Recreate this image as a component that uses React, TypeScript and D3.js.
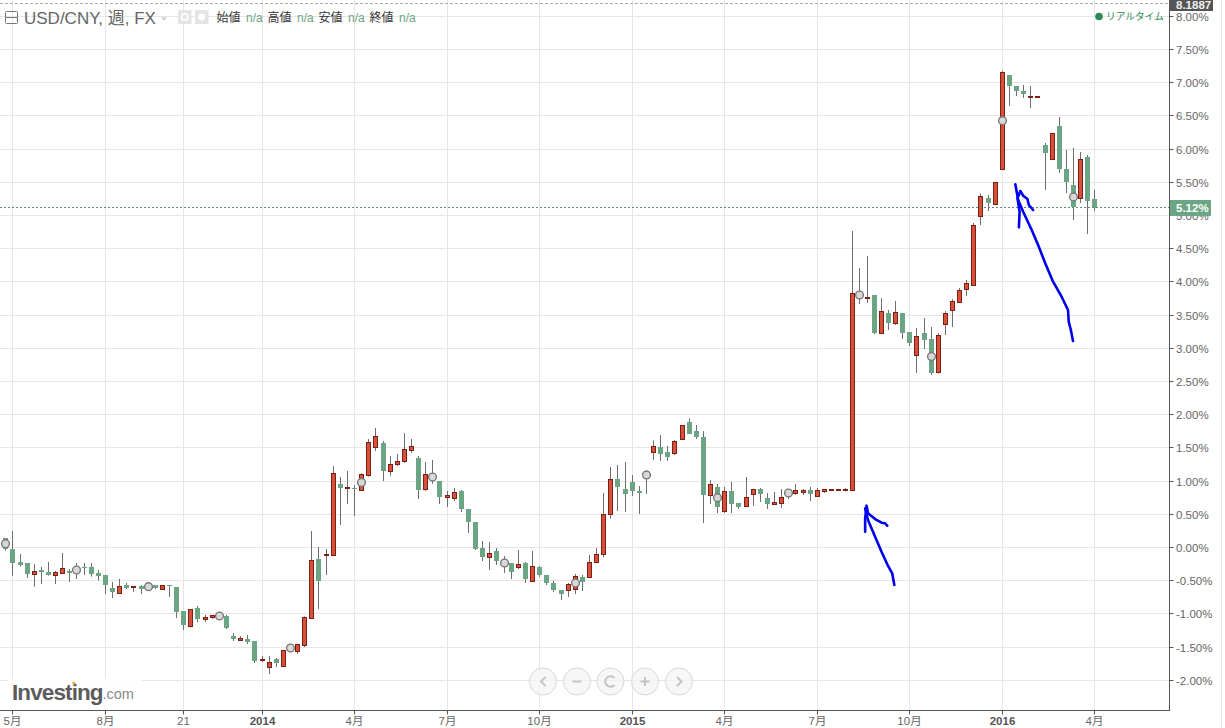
import React from "react";
import * as d3 from "d3";

const opens = [0.138,-0.023,-0.233,-0.248,-0.409,-0.339,-0.369,-0.419,-0.389,-0.364,-0.319,-0.294,-0.294,-0.399,-0.429,-0.61,-0.695,-0.565,-0.605,-0.58,-0.57,-0.57,-0.63,-0.565,-0.595,-0.971,-1.192,-0.926,-1.087,-1.057,-1.047,-1.032,-1.333,-1.403,-1.393,-1.423,-1.704,-1.81,-1.694,-1.795,-1.534,-1.569,-1.47,-1.072,-0.188,-0.123,-0.123,0.956,0.896,0.896,0.856,1.082,1.503,1.559,1.142,1.247,1.293,1.458,1.333,0.866,1.092,1.001,0.75,0.735,0.836,0.565,0.384,-0.008,-0.153,-0.053,-0.203,-0.248,-0.304,-0.248,-0.515,-0.294,-0.429,-0.535,-0.655,-0.655,-0.635,-0.449,-0.454,-0.228,-0.103,0.494,1.027,0.876,0.981,0.846,1.042,1.428,1.509,1.438,1.413,1.629,1.885,1.754,1.664,0.781,0.906,0.54,0.836,0.67,0.615,0.796,0.866,0.745,0.655,0.66,0.851,0.811,0.826,0.851,0.766,0.841,0.856,0.856,0.856,0.861,3.828,3.748,3.788,3.23,3.517,3.366,3.517,3.245,2.889,3.23,3.14,2.633,3.356,3.567,3.687,3.883,3.943,4.983,5.249,5.163,5.695,7.101,6.95,6.86,6.775,6.775,6.047,5.836,6.333,5.7,5.445,5.254,5.866,5.234];
const closes = [-0.023,-0.243,-0.264,-0.409,-0.359,-0.379,-0.424,-0.374,-0.314,-0.394,-0.359,-0.309,-0.414,-0.439,-0.575,-0.685,-0.585,-0.61,-0.58,-0.625,-0.61,-0.61,-0.57,-0.59,-0.981,-1.182,-0.931,-1.077,-1.052,-1.022,-1.017,-1.227,-1.393,-1.378,-1.438,-1.724,-1.694,-1.729,-1.754,-1.549,-1.493,-1.458,-1.052,-0.193,-0.505,-0.103,1.117,0.896,0.911,0.881,1.102,1.584,1.674,1.152,1.253,1.298,1.478,1.524,0.851,1.102,1.032,0.76,0.776,0.831,0.565,0.369,-0.023,-0.158,-0.088,-0.218,-0.264,-0.369,-0.254,-0.489,-0.284,-0.429,-0.535,-0.655,-0.715,-0.555,-0.434,-0.52,-0.223,-0.103,0.499,1.027,0.911,0.791,0.836,0.806,1.142,1.524,1.408,1.348,1.599,1.84,1.709,1.664,0.776,0.951,0.595,0.846,0.655,0.595,0.755,0.866,0.791,0.655,0.685,0.755,0.791,0.861,0.851,0.791,0.861,0.866,0.866,0.866,0.866,3.828,3.778,3.768,3.23,3.557,3.366,3.542,3.23,3.065,3.18,3.125,2.613,3.195,3.527,3.707,3.873,3.978,4.852,5.289,5.188,5.49,7.161,6.95,6.86,6.815,6.785,6.785,5.941,6.242,5.7,5.49,5.113,5.846,5.218,5.098];
const highs = [0.138,0.248,-0.098,-0.238,-0.248,-0.294,-0.218,-0.354,-0.083,-0.324,-0.233,-0.233,-0.233,-0.339,-0.429,-0.52,-0.474,-0.535,-0.58,-0.565,-0.55,-0.565,-0.57,-0.565,-0.595,-0.971,-0.931,-0.881,-1.017,-1.022,-1.017,-1.017,-1.288,-1.333,-1.318,-1.423,-1.634,-1.634,-1.664,-1.549,-1.473,-1.458,-1.037,0.248,0.008,-0.023,1.227,1.062,1.152,0.941,1.117,1.634,1.8,1.604,1.378,1.408,1.724,1.634,1.378,1.288,1.318,1.001,0.851,0.896,0.866,0.58,0.384,0.098,0.083,-0.008,-0.128,-0.248,-0.038,-0.218,-0.053,-0.279,-0.414,-0.505,-0.64,-0.535,-0.399,-0.414,-0.113,-0.008,0.821,1.212,1.242,1.288,1.092,0.926,1.167,1.614,1.694,1.529,1.619,1.84,1.945,1.845,1.754,1.017,0.956,0.911,0.986,0.67,1.062,0.881,0.896,0.821,0.836,0.881,0.881,0.956,0.881,0.911,0.896,0.881,0.866,0.866,0.896,4.766,4.209,4.39,3.803,3.758,3.577,3.712,3.517,3.245,3.306,3.456,3.321,3.23,3.562,3.742,3.908,4.028,4.887,5.334,5.309,5.505,7.176,7.116,6.95,6.965,6.95,6.785,6.092,6.242,6.483,5.986,6.016,5.956,5.911,5.384];
const lows = [-0.048,-0.424,-0.289,-0.459,-0.59,-0.55,-0.424,-0.55,-0.389,-0.52,-0.474,-0.414,-0.439,-0.499,-0.7,-0.761,-0.695,-0.625,-0.67,-0.7,-0.63,-0.625,-0.63,-0.745,-1.062,-1.242,-1.207,-1.122,-1.122,-1.077,-1.047,-1.227,-1.408,-1.403,-1.453,-1.739,-1.724,-1.905,-1.8,-1.795,-1.534,-1.604,-1.5,-1.072,-0.926,-0.414,-0.123,0.339,0.655,0.474,0.856,1.067,1.453,1.001,1.082,1.227,1.273,1.423,0.73,0.851,0.956,0.655,0.61,0.7,0.535,0.218,-0.038,-0.203,-0.339,-0.264,-0.384,-0.474,-0.324,-0.535,-0.515,-0.444,-0.565,-0.67,-0.791,-0.745,-0.7,-0.655,-0.454,-0.228,-0.15,0.434,0.55,0.535,0.776,0.505,0.806,1.318,1.303,1.303,1.393,1.619,1.709,1.634,0.369,0.655,0.52,0.52,0.52,0.58,0.615,0.625,0.685,0.58,0.64,0.595,0.73,0.791,0.791,0.7,0.766,0.821,0.856,0.856,0.846,0.861,3.667,3.682,3.215,3.215,3.275,3.351,3.14,3.034,2.628,2.989,2.598,2.618,3.2,3.321,3.682,3.788,3.943,4.857,5.068,5.163,5.695,6.649,6.8,6.77,6.619,6.775,5.384,5.836,5.64,5.339,4.932,5.188,4.721,5.068];

const eventSlots = [0,10,20,30,40,50,60,70,80,90,100,110,120,130,140,150];
const priceTicks = [8,7.5,7,6.5,6,5.5,5,4.5,4,3.5,3,2.5,2,1.5,1,0.5,0,-0.5,-1,-1.5,-2];
const timeSlots = [1,14,25,36,49,62,75,88,101,114,127,140,153];
const timeLabels = ["5月","8月","21","2014","4月","7月","10月","2015","4月","7月","10月","2016","4月"];
const lastValue = 5.12;
const legendItems = ["始値","高値","安値","終値"];

const arrowOneLong: [number,number][] = [[124.9,-0.565],[124.6,-0.389],[124,-0.274],[123.1,-0.063],[122.2,0.163],[121.2,0.414],[120.8,0.59]];
const arrowOneShort: [number,number][] = [[120.8,0.238],[120.8,0.44],[121,0.63],[121.2,0.515],[122.2,0.429],[123.1,0.373],[123.6,0.364],[123.9,0.328]];
const arrowTwoLong: [number,number][] = [[150,3.11],[149.7,3.276],[149.4,3.4],[149.3,3.577],[148.4,3.777],[147.2,4.003],[146.1,4.28],[145.1,4.556],[144.2,4.782],[143,5.057],[142.3,5.233],[141.9,5.47]];
const arrowTwoShort: [number,number][] = [[142.4,4.822],[142.5,5.057],[142.2,5.259],[142.6,5.369],[143,5.298],[143.6,5.248],[143.8,5.158],[144.4,5.083]];

const x = d3.scaleLinear().domain([0, 153]).range([5.3, 1094.35]);
const y = d3.scaleLinear().domain([-2, 8]).range([680.3, 16.3]);
const strokeLine = d3.line<[number,number]>().x(d => x(d[0])).y(d => y(d[1])).curve(d3.curveLinear);

const FONT = '"Liberation Sans", Arial, "Noto Sans CJK JP", sans-serif';
const GREEN = "#6ba583";
const RED = "#d9503a";
const REDDARK = "#7a2015";
const WICK = "#6e6e6e";
const GRID = "#e6e6e6";
const AXIS = "#555555";
const AXIS_X = 1169.5;
const AXIS_Y = 710.5;

function Candles() {
  return (
    <g>
      {opens.map((o, i) => {
        const c = closes[i];
        const cx = Math.round(x(i));
        const up = c >= o;
        const top = Math.floor(y(Math.max(o, c)));
        const bot = Math.floor(y(Math.min(o, c)));
        const h = Math.max(bot - top, 1);
        return (
          <g key={i}>
            <line x1={cx + 0.5} x2={cx + 0.5} y1={y(highs[i])} y2={y(lows[i])} stroke={WICK} strokeWidth={1} />
            {up ? (
              <rect x={cx - 1.5} y={top + 0.5} width={4} height={h} fill={RED} stroke={REDDARK} strokeWidth={1} />
            ) : (
              <rect x={cx - 2} y={top} width={5} height={Math.max(h, 1)} fill={GREEN} />
            )}
          </g>
        );
      })}
    </g>
  );
}

function NavButton({ cx, children }: { cx: number; children?: React.ReactNode }) {
  const cy = 681.5;
  return (
    <g transform={`translate(${cx},${cy})`}>
      <circle r={13.5} fill="#f4f4f4" fillOpacity={0.75} stroke="#d8d8d8" strokeWidth={1} />
      <g fill="none" stroke="#c4c4c4" strokeWidth={2}>{children}</g>
    </g>
  );
}

export default function App() {
  const yLast = y(lastValue);
  return (
    <svg width={1225} height={728} style={{ position: "absolute", left: 0, top: 0, display: "block", background: "#fff", fontFamily: FONT }}>
      {/* grid */}
      {priceTicks.map(t => (
        <line key={t} x1={0} x2={AXIS_X} y1={Math.floor(y(t)) + 0.5} y2={Math.floor(y(t)) + 0.5} stroke={GRID} strokeWidth={1} />
      ))}
      {timeSlots.map(s => (
        <line key={s} x1={Math.round(x(s)) + 0.5} x2={Math.round(x(s)) + 0.5} y1={0} y2={AXIS_Y} stroke={GRID} strokeWidth={1} />
      ))}
      <line x1={1221.5} x2={1221.5} y1={0} y2={728} stroke="#e8e8e8" strokeWidth={1} />

      {/* top dashed high line */}
      <line x1={0} x2={AXIS_X} y1={3.5} y2={3.5} stroke="#aaaaaa" strokeWidth={1} strokeDasharray="3 2" />

      {/* logo */}
      <rect x={8} y={678} width={134} height={31} fill="#fff" fillOpacity={0.85} />
      <text x={12} y={700} fontSize={22.5} fontWeight={700} fill="#5c5c5c" letterSpacing={-0.9}>Investing</text>
      <text x={102.5} y={699} fontSize={14.5} fill="#8a8a8a">.com</text>
      <circle cx={74} cy={683} r={1.6} fill="#f0a030" />

      <Candles />

      {/* event markers */}
      {eventSlots.map(s => (
        <circle key={s} cx={Math.round(x(s)) + 0.5} cy={y((opens[s] + closes[s]) / 2)} r={3.9} fill="#d8d8d8" stroke="#777" strokeWidth={1.4} />
      ))}

      {/* price line */}
      <line x1={0} x2={AXIS_X} y1={Math.floor(yLast) + 0.5} y2={Math.floor(yLast) + 0.5} stroke="#5f8a72" strokeWidth={1} strokeDasharray="2 2" />

      {/* hand-drawn arrows */}
      {[arrowOneLong, arrowOneShort, arrowTwoLong, arrowTwoShort].map((p, i) => (
        <path key={i} d={strokeLine(p) || ""} fill="none" stroke="#0000ee" strokeWidth={2.6} strokeLinejoin="round" strokeLinecap="round" />
      ))}

      {/* nav buttons */}
      <NavButton cx={543}><path d="M2.5,-4.5 L-2,0 L2.5,4.5" /></NavButton>
      <NavButton cx={577}><path d="M-4.5,0 H4.5" /></NavButton>
      <NavButton cx={610.5}><path d="M4,-3.5 A5.3,5.3 0 1 0 4,3.5" /></NavButton>
      <NavButton cx={645}><path d="M-4.5,0 H4.5 M0,-4.5 V4.5" /></NavButton>
      <NavButton cx={679}><path d="M-2,-4.5 L2.5,0 L-2,4.5" /></NavButton>

      {/* axes */}
      <line x1={AXIS_X} x2={AXIS_X} y1={0} y2={AXIS_Y + 0.5} stroke={AXIS} strokeWidth={1} />
      <line x1={0} x2={AXIS_X} y1={AXIS_Y} y2={AXIS_Y} stroke={AXIS} strokeWidth={1} />
      {priceTicks.map(t => {
        const ty = Math.floor(y(t)) + 0.5;
        return (
          <g key={t}>
            <line x1={AXIS_X} x2={AXIS_X + 4} y1={ty} y2={ty} stroke={AXIS} strokeWidth={1} />
            <text x={1176} y={ty + 4} fontSize={11.5} fill="#666">{`${t.toFixed(2)}%`}</text>
          </g>
        );
      })}
      {timeSlots.map((s, i) => {
        const tx = Math.round(x(s)) + 0.5;
        const lab = timeLabels[i];
        const bold = lab.length === 4;
        return (
          <g key={s}>
            <line x1={tx} x2={tx} y1={AXIS_Y} y2={AXIS_Y + 4} stroke={AXIS} strokeWidth={1} />
            <text x={tx} y={724.5} fontSize={11.5} textAnchor="middle" fontWeight={bold ? 700 : 400} fill={bold ? "#555" : "#666"}>{lab}</text>
          </g>
        );
      })}

      {/* right labels */}
      <rect x={1170} y={0} width={43} height={11} fill="#555" />
      <text x={1176} y={8.5} fontSize={11.5} fontWeight={700} fill="#eee">8.1887</text>
      <rect x={1170} y={200} width={41} height={16} fill={GREEN} />
      <text x={1176} y={212} fontSize={11.5} fontWeight={700} fill="#fff">{`${lastValue.toFixed(2)}%`}</text>

      <circle cx={1099} cy={16.5} r={3.8} fill="#2e8b57" />
      <text x={1106} y={20} fontSize={9.7} fill="#2e8b57">リアルタイム</text>

      {/* header */}
      <rect x={5.5} y={11.5} width={12} height={12} rx={1} fill="none" stroke="#777" strokeWidth={1} />
      <line x1={5.5} x2={17.5} y1={17.5} y2={17.5} stroke="#777" strokeWidth={1} />
      <text x={24} y={24} fontSize={17} fill="#666">USD/CNY, 週, FX</text>
      <path d="M161,17.5 H167 L164,20.5 Z" fill="#c8c8c8" />
      <rect x={178} y={10} width={13.5} height={14} fill="#e4e4e4" />
      <circle cx={184.7} cy={17} r={3.2} fill="none" stroke="#fff" strokeWidth={1.6} />
      <rect x={195} y={10} width={13.5} height={14} fill="#e4e4e4" />
      <circle cx={201.7} cy={17} r={3.4} fill="#fff" />
      {legendItems.map((lab, i) => (
        <g key={lab}>
          <text x={216.5 + i * 51} y={22} fontSize={12} fill="#333">{lab}</text>
          <text x={246 + i * 51} y={22} fontSize={12} fill={GREEN}>n/a</text>
        </g>
      ))}
    </svg>
  );
}
